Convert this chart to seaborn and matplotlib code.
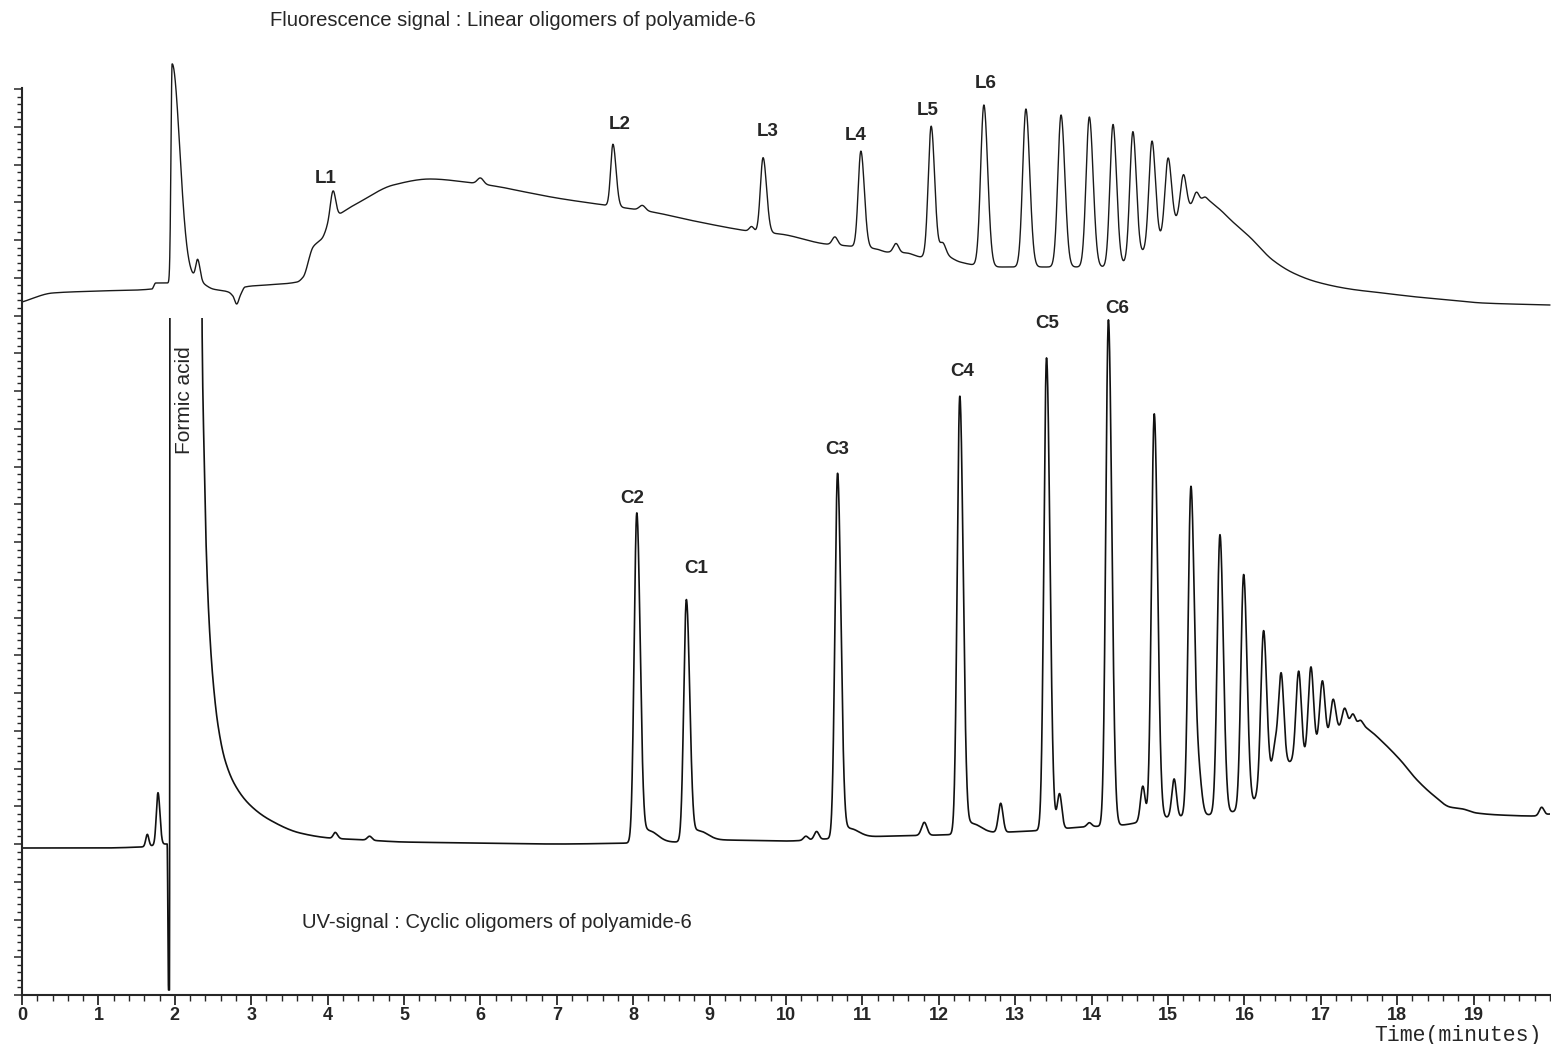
import numpy as np
import pandas as pd
import matplotlib
matplotlib.use("Agg")
import matplotlib.pyplot as plt
import seaborn as sns
from matplotlib.patches import Rectangle
from matplotlib.ticker import MultipleLocator, FixedLocator

# ------------------------------------------------------------------
# Fluorescence signal (linear oligomers) - baseline
fl_base_t = [0.0, 0.4, 1.0, 1.7, 1.75, 1.93, 2.1, 2.24, 2.5, 2.7, 2.76, 2.81, 2.86, 2.92,
             3.2, 3.6, 3.68, 3.81, 3.93, 4.0, 4.07, 4.2, 4.42, 4.86, 5.34, 5.9, 6.26, 6.52,
             7.0, 7.62, 7.9, 8.25, 8.8, 9.42, 9.6, 9.92, 10.52, 10.82, 11.18, 11.32, 11.58,
             11.78, 12.05, 12.28, 12.47, 12.83, 13.31, 13.8, 14.2, 14.45, 14.7, 14.95, 15.15,
             15.35, 15.5, 15.64, 15.85, 16.07, 16.37, 16.64, 16.95, 17.38, 17.81, 18.26,
             18.69, 19.12, 20.0]
fl_base_s = [693, 702, 704, 706, 712, 712, 714, 716, 706, 703, 699, 691, 700, 708,
             710, 713, 718, 748, 757, 768, 775, 783, 793, 810, 816, 812, 808, 804,
             797, 790, 787, 783, 774, 765, 763, 761, 751, 749, 746, 743, 742,
             738, 740, 733, 730, 728, 728, 728, 728, 732, 744, 759, 776,
             791, 795, 788, 773, 758, 735, 722, 713, 706, 702, 698,
             695, 692, 690]
# peaks: retention time (min), height, left / right width (min)
fl_peak_t = [1.965, 2.30, 4.07, 6.00, 7.735, 8.12, 9.55, 9.70, 10.64, 10.98, 11.44, 11.90,
             12.05, 12.59, 13.14, 13.60, 13.97, 14.28, 14.54, 14.79, 15.00, 15.20, 15.37, 15.48]
fl_peak_h = [219, 20, 29, 6, 62, 5, 5, 75, 8, 96, 9, 130,
             12, 161, 158, 152, 150, 142, 128, 105, 74, 40, 11, 3]
fl_peak_wl = [0.015, 0.025, 0.035, 0.04, 0.03, 0.04, 0.03, 0.035, 0.035, 0.035, 0.035, 0.038,
              0.04, 0.042, 0.042, 0.042, 0.042, 0.04, 0.04, 0.04, 0.04, 0.04, 0.035, 0.03]
fl_peak_wr = [0.10, 0.03, 0.035, 0.04, 0.04, 0.04, 0.03, 0.045, 0.035, 0.045, 0.035, 0.045,
              0.04, 0.05, 0.05, 0.05, 0.05, 0.047, 0.045, 0.045, 0.045, 0.04, 0.035, 0.03]

# ------------------------------------------------------------------
# UV signal (cyclic oligomers) - baseline incl. off-scale formic acid peak
uv_base_t = [0.0, 1.0, 1.55, 1.90, 1.918, 1.930, 1.945, 2.33, 2.356, 2.382, 2.408, 2.448,
             2.50, 2.565, 2.657, 2.788, 2.984, 3.246, 3.639, 4.03, 4.5, 5.0, 6.0, 7.0, 8.0,
             8.6, 9.1, 10.0, 10.5, 11.0, 11.4, 12.0, 12.6, 13.2, 13.9, 14.4, 14.9, 15.5,
             15.9, 16.1, 16.3, 16.55, 16.78, 16.95, 17.1, 17.25, 17.4, 17.55, 17.65, 17.81,
             18.04, 18.26, 18.47, 18.69, 18.86, 19.04, 19.35, 19.78, 20.0]
uv_base_s = [147, 147, 148, 151, 5, 5, 2000, 2000, 677, 545, 455, 375,
             315, 270, 235, 210, 190, 175, 162, 157, 155, 153, 152, 151, 152,
             153, 155, 154, 156, 158, 159, 160, 162, 164, 168, 170, 177, 180,
             184, 192, 218, 232, 235, 246, 255, 266, 271, 269, 264, 253,
             235, 215, 200, 188, 186, 182, 180, 179, 181]
uv_peak_t = [1.64, 1.78, 4.10, 4.55, 8.047, 8.20, 8.696, 8.85, 10.26, 10.40, 10.675, 10.83,
             11.81, 12.275, 12.43, 12.81, 13.41, 13.58, 13.97, 14.22, 14.67, 14.82, 15.08,
             15.30, 15.40, 15.68, 15.99, 16.25, 16.40, 16.48, 16.71, 16.87, 17.02, 17.16,
             17.31, 17.42, 17.52, 19.89]
uv_peak_h = [12, 52, 6, 4, 330, 12, 242, 10, 4, 8, 365, 9,
             13, 438, 10, 29, 472, 35, 4, 506, 35, 405, 38,
             328, 40, 279, 234, 152, 22, 92, 90, 88, 64, 36,
             18, 10, 5, 8]
uv_peak_wl = [0.02, 0.022, 0.025, 0.03, 0.034, 0.05, 0.034, 0.05, 0.03, 0.03, 0.034, 0.05,
              0.035, 0.034, 0.05, 0.03, 0.034, 0.03, 0.03, 0.034, 0.03, 0.036, 0.03,
              0.036, 0.04, 0.036, 0.036, 0.035, 0.03, 0.035, 0.035, 0.035, 0.035, 0.035,
              0.033, 0.03, 0.03, 0.03]
uv_peak_wr = [0.02, 0.025, 0.03, 0.03, 0.044, 0.12, 0.044, 0.12, 0.03, 0.03, 0.044, 0.12,
              0.035, 0.044, 0.12, 0.03, 0.044, 0.03, 0.03, 0.044, 0.03, 0.044, 0.03,
              0.044, 0.04, 0.044, 0.044, 0.04, 0.03, 0.035, 0.035, 0.035, 0.035, 0.035,
              0.033, 0.03, 0.03, 0.03]

# peak labels
fl_labels = ["L1", "L2", "L3", "L4", "L5", "L6"]
fl_label_t = [4.07, 7.735, 9.70, 10.98, 11.90, 12.59]
uv_labels = ["C2", "C1", "C3", "C4", "C5", "C6"]
uv_label_t = [8.047, 8.696, 10.675, 12.275, 13.41, 14.22]

x_ticks = list(range(0, 20))
x_tick_labels = [str(v) for v in x_ticks]


def pchip(xk, yk, x):
    xk = np.asarray(xk, float)
    yk = np.asarray(yk, float)
    h = np.diff(xk)
    delta = np.diff(yk) / h
    n = len(xk)
    d = np.zeros(n)
    for k in range(1, n - 1):
        if delta[k - 1] * delta[k] > 0:
            w1 = 2 * h[k] + h[k - 1]
            w2 = h[k] + 2 * h[k - 1]
            d[k] = (w1 + w2) / (w1 / delta[k - 1] + w2 / delta[k])
    d[0] = delta[0]
    d[-1] = delta[-1]
    i = np.clip(np.searchsorted(xk, x) - 1, 0, n - 2)
    u = (x - xk[i]) / h[i]
    h00 = 2 * u**3 - 3 * u**2 + 1
    h10 = u**3 - 2 * u**2 + u
    h01 = -2 * u**3 + 3 * u**2
    h11 = u**3 - u**2
    return h00 * yk[i] + h10 * h[i] * d[i] + h01 * yk[i + 1] + h11 * h[i] * d[i + 1]


def build_trace(bt, bs, pt, ph, wl, wr):
    t = np.union1d(np.linspace(0, 20, 10001), bt)
    s = pchip(bt, bs, t)
    for c, hgt, a, b in zip(pt, ph, wl, wr):
        w = np.where(t < c, a, b)
        s = s + hgt * np.exp(-0.5 * ((t - c) / w) ** 2)
    return t, s


fl_t, fl_s = build_trace(fl_base_t, fl_base_s, fl_peak_t, fl_peak_h, fl_peak_wl, fl_peak_wr)
uv_t, uv_s = build_trace(uv_base_t, uv_base_s, uv_peak_t, uv_peak_h, uv_peak_wl, uv_peak_wr)
df_fl = pd.DataFrame({"time": fl_t, "signal": fl_s})
df_uv = pd.DataFrame({"time": uv_t, "signal": uv_s})

sns.set_style("ticks")
plt.rcParams["font.family"] = ["Liberation Sans", "DejaVu Sans"]

W, H = 1551, 1044
fig = plt.figure(figsize=(W / 100, H / 100), dpi=100)
ax_left, ax_right, ax_top, ax_bot = 22, 1550, 88, 995
ax = fig.add_axes([ax_left / W, (H - ax_bot) / H, (ax_right - ax_left) / W, (ax_bot - ax_top) / H])

sns.lineplot(data=df_fl, x="time", y="signal", ax=ax, color="#1a1a1a", linewidth=1.0,
             estimator=None, sort=False)
line_fl = ax.lines[-1]
line_fl.set_clip_on(False)
sns.lineplot(data=df_uv, x="time", y="signal", ax=ax, color="#111111", linewidth=1.2,
             estimator=None, sort=False)
line_uv = ax.lines[-1]

ax.set_xlim(0, 20)
ax.set_ylim(0, ax_bot - ax_top)
clip = Rectangle((0, -50), 20, 677 + 50, transform=ax.transData)
line_uv.set_clip_path(clip)
line_uv.set_clip_on(True)

sns.despine(ax=ax)
ax.spines["left"].set_linewidth(1.5)
ax.spines["bottom"].set_linewidth(1.5)

ax.xaxis.set_major_locator(FixedLocator(x_ticks))
ax.set_xticklabels(x_tick_labels)
ax.xaxis.set_minor_locator(MultipleLocator(0.2))
ax.yaxis.set_major_locator(MultipleLocator(37.75))
ax.yaxis.set_minor_locator(MultipleLocator(7.55))
ax.set_yticklabels([])
ax.tick_params(axis="x", which="major", length=7, width=1.3, direction="out", pad=2,
               labelsize=13)
ax.tick_params(axis="x", which="minor", length=4, width=1.0, direction="out")
ax.tick_params(axis="y", which="major", length=6, width=1.1, direction="out")
ax.tick_params(axis="y", which="minor", length=3.5, width=1.0, direction="out")
for lab in ax.get_xticklabels():
    lab.set_fontweight("bold")
ax.set_xlabel("")
ax.set_ylabel("")


def peak_top(t_arr, s_arr, t0):
    m = (t_arr > t0 - 0.05) & (t_arr < t0 + 0.05)
    return s_arr[m].max()


fl_label_dx = [-7, 7, 5, -5, -3, 2]
fl_label_dy = [12, 20, 26, 16, 16, 21]
uv_label_dx = [-5, 10, 0, 2, 1, 9]
uv_label_dy = [14, 31, 24, 25, 34, 11]

for name, t0, dx, dy in zip(fl_labels, fl_label_t, fl_label_dx, fl_label_dy):
    ax.annotate(name, xy=(t0, peak_top(fl_t, fl_s, t0)), xytext=(dx, dy),
                textcoords="offset pixels", ha="center", va="center",
                fontsize=13.5, fontweight="bold", annotation_clip=False)
for name, t0, dx, dy in zip(uv_labels, uv_label_t, uv_label_dx, uv_label_dy):
    ax.annotate(name, xy=(t0, peak_top(uv_t, uv_s, t0)), xytext=(dx, dy),
                textcoords="offset pixels", ha="center", va="center",
                fontsize=13.5, fontweight="bold", annotation_clip=False)

fig.text(270 / W, 1 - 20 / H, "Fluorescence signal : Linear oligomers of polyamide-6",
         ha="left", va="center", fontsize=14.6)
fig.text(302 / W, 1 - 922 / H, "UV-signal : Cyclic oligomers of polyamide-6",
         ha="left", va="center", fontsize=14.6)
fig.text(185 / W, 1 - 400 / H, "Formic acid", rotation=90, ha="center", va="center",
         fontsize=15)
fig.text(1542 / W, 1 - 1035 / H, "Time(minutes)", ha="right", va="center", fontsize=15.5,
         family=["Liberation Mono", "DejaVu Sans Mono"])

fig.savefig("out.png", dpi=100)
